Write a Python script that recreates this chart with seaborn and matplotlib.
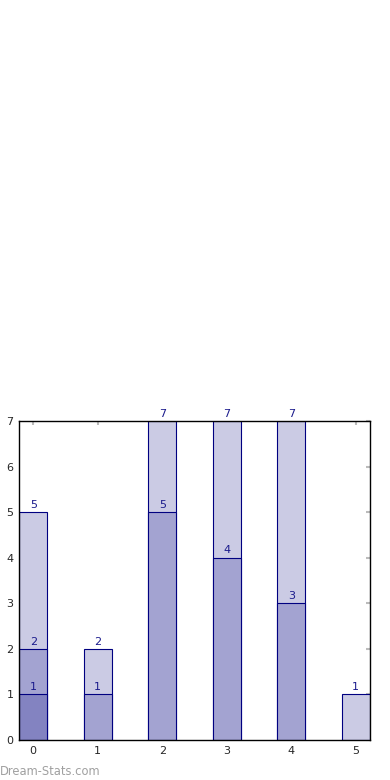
import numpy as np
import pandas as pd
import seaborn as sns
from matplotlib import pyplot as plt

# values, one list per layer (drawn back to front)
positions = [0, 1, 2, 3, 4, 5]
layer_total = [5, 2, 7, 7, 7, 1]
layer_mid = [2, 1, 5, 4, 3, 0]
layer_low = [1, 0, 0, 0, 0, 0]
layer_colors = ['#cbcbe4', '#a3a3d1', '#8383c1']

sns.set_style('white')
plt.rcParams['font.family'] = ['DejaVu Sans']

fig = plt.figure(figsize=(3.9, 7.8), dpi=100)
ax = fig.add_axes([19 / 390, 40 / 780, 351 / 390, 319 / 780])

for vals, col in zip([layer_total, layer_mid, layer_low], layer_colors):
    df = pd.DataFrame({'pos': positions, 'val': vals})
    # keep zero bars out so they don't leave an edge line on the axis
    df['val'] = df['val'].where(df['val'] > 0, np.nan)
    sns.barplot(data=df, x='pos', y='val', order=positions, width=0.44,
                color=col, saturation=1, edgecolor='#000080', linewidth=0.8,
                ax=ax, errorbar=None)
    for p, v in zip(positions, vals):
        if v > 0:
            ax.text(p, v + 0.05, str(v), ha='center', va='bottom',
                    fontsize=8, color='#1a1a8c')

ax.set_xlim(-0.22, 5.22)
ax.set_ylim(0, 7)
ax.set_yticks(range(8))
ax.set_xlabel('')
ax.set_ylabel('')
for s in ax.spines.values():
    s.set_visible(True)
    s.set_color('black')
    s.set_linewidth(1)
ax.tick_params(direction='in', length=3, width=1.5, color='#bbbbbb',
               top=True, right=True, labelsize=8, pad=4)

fig.text(0.0, 5 / 780, 'Dream-Stats.com', fontsize=8.3, color='#a0a0a0',
         ha='left', va='baseline')

fig.savefig('out.png', dpi=100)
